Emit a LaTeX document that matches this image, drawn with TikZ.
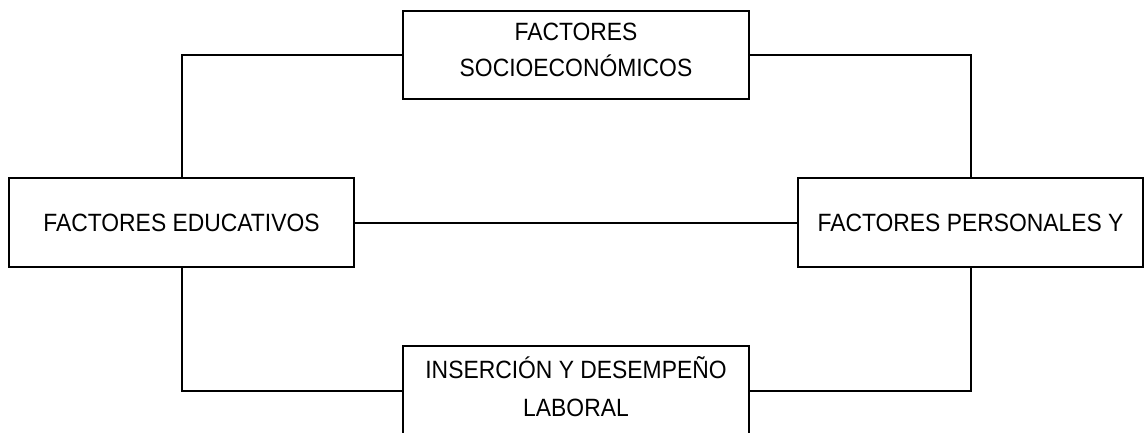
\documentclass[tikz,border=0pt]{standalone}
\usepackage{fontspec}
\setmainfont{Liberation Sans}[FakeStretch=0.915]
\usepackage{tikz}
\usetikzlibrary{positioning}

\begin{document}
\begin{tikzpicture}[x=1pt,y=-1pt,
  fbox/.style={draw,line width=2pt,minimum width=345pt,minimum height=89pt,
    inner sep=0pt,align=center,font=\fontsize{25}{36}\selectfont},
  lnk/.style={line width=2pt}]
  \useasboundingbox (0,0) rectangle (1144,433);

  % boxes
  \node[fbox,minimum width=346pt,minimum height=88pt,
        text height=54pt,text depth=10pt] (soc) at (576,55)
        {FACTORES\\SOCIOECON\'OMICOS};
  \node[fbox] (edu) at (181.5,222.5) {FACTORES EDUCATIVOS};
  \node[fbox] (per) at (970.5,222.5) {FACTORES PERSONALES Y};
  \node[fbox,minimum width=346pt,minimum height=90pt,
        text height=61pt,text depth=11pt,
        font=\fontsize{25}{38}\selectfont] (lab) at (576,391)
        {INSERCI\'ON Y DESEMPE\~NO\\LABORAL};

  % links
  \draw[lnk] (soc.west) -| (edu.north);
  \draw[lnk] (soc.east) -| (per.north);
  \draw[lnk] (edu.east) -- (per.west);
  \draw[lnk] (edu.south) |- (lab.west);
  \draw[lnk] (per.south) |- (lab.east);
\end{tikzpicture}
\end{document}
